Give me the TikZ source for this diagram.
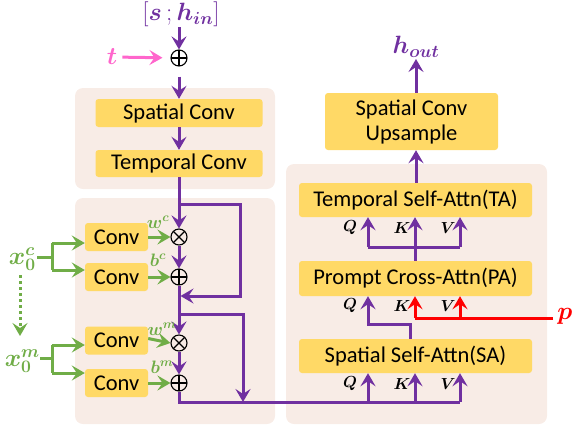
\RequirePackage{fix-cm}
\documentclass[tikz,border=0pt]{standalone}
\usepackage{amsmath}
\usepackage{bm}
\usepackage{fontspec}
\setmainfont{Carlito}
\usetikzlibrary{arrows.meta}
\definecolor{pur}{HTML}{7030A0}
\definecolor{panelc}{HTML}{F8ECE6}
\definecolor{gold}{HTML}{FFD966}
\definecolor{grn}{HTML}{70AD47}
\definecolor{pnk}{HTML}{FF66CC}
\definecolor{rd}{HTML}{FF0000}
\begin{document}
\begin{tikzpicture}[x=1pt,y=-1pt,
  tip/.tip={Stealth[length=13pt,width=15pt,inset=5pt]},
  panel/.style={fill=panelc, rounded corners=8pt},
  box/.style={fill=gold, rounded corners=3pt, inner sep=0pt, align=center,
    font=\fontsize{22.5}{25}\selectfont},
  lab/.style={inner sep=0pt, font=\fontsize{25}{25}\selectfont},
  slab/.style={inner sep=0pt, font=\fontsize{18}{18}\selectfont, text=grn},
  qkv/.style={inner sep=0pt, font=\fontsize{16}{16}\selectfont},
  pline/.style={draw=pur, line width=3pt},
  parr/.style={pline, -tip},
  garr/.style={draw=grn, line width=3pt, -tip},
  gline/.style={draw=grn, line width=3pt},
  rline/.style={draw=rd, line width=3pt},
  rarr/.style={rline, -tip},
  opplus/.style={circle, draw, line width=1.1pt, minimum size=16pt, inner sep=0pt,
    path picture={\draw[line width=1.1pt] (path picture bounding box.north) -- (path picture bounding box.south)
      (path picture bounding box.west) -- (path picture bounding box.east);}},
  optimes/.style={circle, draw, line width=1.1pt, minimum size=16pt, inner sep=0pt,
    path picture={\draw[line width=1.1pt] (path picture bounding box.north west) -- (path picture bounding box.south east)
      (path picture bounding box.south west) -- (path picture bounding box.north east);}}
]
\useasboundingbox (0,0) rectangle (573,432);
% panels
\path[panel] (75,88) rectangle (275,189);
\path[panel] (75,198) rectangle (275,424);
\path[panel] (286,164) rectangle (547,424);

% top input
\node[lab, text=pur] (in) at (181,14) {$[\bm{s}\,;\bm{h}_{\bm{in}}]$};
\node[opplus] (p0) at (179,58) {};
\node[lab, text=pnk] (t) at (112,57) {$\bm{t}$};
\draw[draw=pnk, line width=3pt, -tip, shorten <=5pt, shorten >=8pt] (t) -- (p0);
\draw[parr] (179,27) -- (p0.north);

% conv boxes
\node[box, minimum width=167pt, minimum height=28pt] (sc) at (179,113) {Spatial Conv};
\node[box, minimum width=167pt, minimum height=27pt] (tc) at (179,163.5) {Temporal Conv};
\draw[parr, shorten <=10pt] (p0.south) -- (sc.north);
\draw[parr] (sc) -- (tc);

% modulation
\node[box, minimum width=63pt, minimum height=28pt] (c1) at (116.5,237) {Conv};
\node[box, minimum width=63pt, minimum height=28pt] (c2) at (116.5,277) {Conv};
\node[box, minimum width=63pt, minimum height=28pt] (c3) at (116.5,340.5) {Conv};
\node[box, minimum width=63pt, minimum height=28pt] (c4) at (116.5,383) {Conv};
\node[optimes] (m1) at (179,237) {};
\node[opplus] (a1) at (179,277) {};
\node[optimes] (m2) at (179,343) {};
\node[opplus] (a2) at (179,383) {};

\coordinate (j1) at (179,204);
\coordinate (j2) at (179,296);
\coordinate (j3) at (179,314);
\coordinate (b0) at (179,402);
\coordinate (bs) at (243,402);
\coordinate (bq) at (368,402);
\coordinate (bk) at (415,402);
\coordinate (bv) at (460,402);

\draw[parr] (tc.south) -- (m1.north);
\draw[parr] (j1) -- (240,204) -- (240,296) -- ([xshift=1.5pt]j2);
\draw[parr] (m1.south) -- (a1.north);
\draw[parr] (a1.south) -- (m2.north);
\draw[parr] (j3) -- (243,314) -- (bs);
\draw[parr] (m2.south) -- (a2.north);
\draw[pline] (a2.south) -- (b0) -- (bv);

\draw[garr] (c1.east) -- (m1.west);
\draw[garr] (c2.east) -- (a1.west);
\draw[garr] ([yshift=2pt]c3.east) -- (m2.west);
\draw[garr] (c4.east) -- (a2.west);

\node[slab] (wc) at (158,222) {$\bm{w}^{\bm c}$};
\node[slab] (bc) at (158,260) {$\bm{b}^{\bm c}$};
\node[slab] (wm) at (162,329) {$\bm{w}^{\bm m}$};
\node[slab] (bm) at (162,367) {$\bm{b}^{\bm m}$};

% green inputs
\node[lab, text=grn, anchor=east] (xc) at (36,259) {$\bm{x}_{\bm 0}^{\bm c}$};
\node[lab, text=grn, anchor=east] (xm) at (40,361) {$\bm{x}_{\bm 0}^{\bm m}$};
\coordinate (g1) at (52,257);
\coordinate (g2) at (52,358);
\draw[gline] (37,257) -- (g1);
\draw[gline] (52,243) -- (52,270);
\draw[garr] (52,243) -- (c1.west |- 0,243);
\draw[garr] (52,270) -- (c2.west |- 0,270);
\draw[gline] (40,358) -- (g2);
\draw[gline] (52,345) -- (52,373);
\draw[garr] (52,345) -- (c3.west |- 0,345);
\draw[garr] (52,373) -- (c4.west |- 0,373);
\draw[draw=grn, line width=3pt, dash pattern=on 3pt off 3pt, -{Stealth[length=13pt,width=15pt,inset=5pt,sep=2pt]}] (20,275) -- (20,338);

% right side
\node[box, minimum width=173pt, minimum height=57pt] (up) at (411.5,121.5) {Spatial Conv\\Upsample};
\node[box, minimum width=233pt, minimum height=34pt] (ta) at (415.5,200) {Temporal Self-Attn(TA)};
\node[box, minimum width=233pt, minimum height=35pt] (pa) at (415.5,278.5) {Prompt Cross-Attn(PA)};
\node[box, minimum width=233pt, minimum height=34pt] (sa) at (415.5,356) {Spatial Self-Attn(SA)};
\node[lab, text=pur] (hout) at (416,47) {$\bm{h}_{\bm{out}}$};

\draw[parr] (up.north -| hout) -- (416,59);
\draw[parr] (ta.north -| hout) -- (up.south -| hout);

% SA inputs
\draw[parr] (bq) -- (bq |- sa.south);
\draw[parr] (bk) -- (bk |- sa.south);
\draw[parr] (bv) -- (bv |- sa.south);

% SA -> PA (Q)
\coordinate (s1) at (410,324);
\coordinate (s2) at (368,324);
\draw[parr] (s1 |- sa.north) -- (s1) -- (s2) -- (s2 |- pa.south);

% prompt p
\node[lab, text=rd] (p) at (565,316) {$\bm{p}$};
\coordinate (rk) at (415,318);
\coordinate (rv) at (460,318);
\draw[rline] (553,318) -- (rk);
\draw[rarr] (rk) -- (rk |- pa.south);
\draw[rarr] (rv) -- (rv |- pa.south);

% PA -> TA
\coordinate (t1) at (415,247);
\coordinate (tq) at (368,247);
\coordinate (tv) at (460,247);
\draw[pline] (t1 |- pa.north) -- (t1);
\draw[pline] (tq) -- (tv);
\draw[parr] (tq) -- (tq |- ta.south);
\draw[parr] (t1) -- (t1 |- ta.south);
\draw[parr] (tv) -- (tv |- ta.south);

% Q K V labels
\node[qkv] (q1) at (350,228) {$\bm{Q}$};
\node[qkv] (k1) at (402,228) {$\bm{K}$};
\node[qkv] (v1) at (448,228) {$\bm{V}$};
\node[qkv] (q2) at (350,306) {$\bm{Q}$};
\node[qkv] (k2) at (402,306) {$\bm{K}$};
\node[qkv] (v2) at (448,306) {$\bm{V}$};
\node[qkv] (q3) at (350,384) {$\bm{Q}$};
\node[qkv] (k3) at (402,384) {$\bm{K}$};
\node[qkv] (v3) at (448,384) {$\bm{V}$};
\end{tikzpicture}
\end{document}
